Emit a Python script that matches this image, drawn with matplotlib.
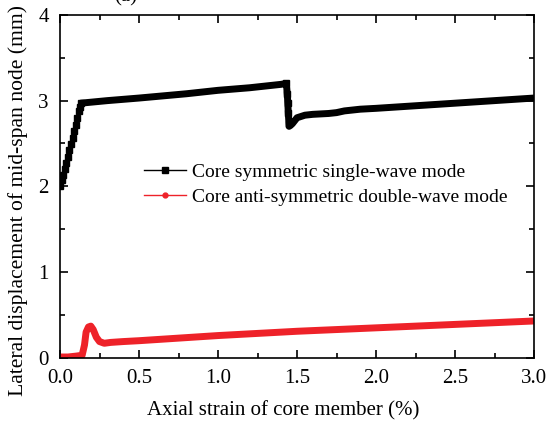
import numpy as np
import matplotlib.pyplot as plt
from matplotlib.lines import Line2D
from matplotlib.ticker import MultipleLocator, FormatStrFormatter

plt.rcParams['font.family'] = ['Liberation Serif', 'DejaVu Serif']
plt.rcParams['mathtext.fontset'] = 'stix'

# symmetric single-wave mode, rising part (sparse markers)
sym_rise_x = [0.0, 0.01, 0.02, 0.03, 0.04, 0.05, 0.06, 0.07, 0.08, 0.09, 0.10, 0.11, 0.12, 0.125, 0.13]
sym_rise_y = [2.0, 2.07, 2.13, 2.20, 2.27, 2.34, 2.42, 2.49, 2.56, 2.64, 2.72, 2.80, 2.88, 2.93, 2.97]
# plateau, jump and recovery
sym_rest_x = [0.13, 0.3, 0.5, 0.8, 1.0, 1.2, 1.40, 1.43, 1.435, 1.44, 1.445, 1.45, 1.47, 1.50, 1.55, 1.60, 1.70, 1.75, 1.80, 1.90, 2.0, 2.25, 2.5, 2.75, 3.0]
sym_rest_y = [2.97, 3.00, 3.03, 3.08, 3.12, 3.15, 3.19, 3.20, 3.15, 3.03, 2.85, 2.70, 2.73, 2.80, 2.83, 2.84, 2.85, 2.86, 2.88, 2.90, 2.91, 2.94, 2.97, 3.00, 3.03]
sym_jump_x = [1.43, 1.435, 1.44, 1.445, 1.45]
sym_jump_y = [3.20, 3.08, 2.97, 2.85, 2.73]

# anti-symmetric double-wave mode
anti_x = [0.0, 0.05, 0.10, 0.14, 0.155, 0.165, 0.18, 0.195, 0.21, 0.23, 0.25, 0.28, 0.32, 0.40, 0.5, 1.0, 1.5, 2.0, 2.5, 3.0]
anti_y = [0.01, 0.01, 0.02, 0.03, 0.15, 0.30, 0.36, 0.37, 0.33, 0.24, 0.19, 0.17, 0.18, 0.19, 0.20, 0.26, 0.31, 0.35, 0.39, 0.43]

fig = plt.figure(figsize=(5.47, 4.25), dpi=100)
ax = fig.add_axes([0.1097, 0.158, 0.8666, 0.807])

ax.plot(sym_rest_x, sym_rest_y, color='black', lw=5, solid_capstyle='butt')
ax.plot(sym_rise_x, sym_rise_y, color='black', lw=1, marker='s', ms=4.5)
ax.plot(sym_jump_x, sym_jump_y, color='black', lw=1, marker='s', ms=4.5)
ax.plot(anti_x, anti_y, color='#ee2229', lw=5)

ax.set_xlim(0, 3.0)
ax.set_ylim(0, 4)
ax.xaxis.set_major_locator(MultipleLocator(0.5))
ax.xaxis.set_minor_locator(MultipleLocator(0.25))
ax.yaxis.set_major_locator(MultipleLocator(1))
ax.yaxis.set_minor_locator(MultipleLocator(0.5))
ax.xaxis.set_major_formatter(FormatStrFormatter('%.1f'))
ax.yaxis.set_major_formatter(FormatStrFormatter('%d'))
ax.tick_params(which='both', direction='in', top=True, right=True, labelsize=15, width=1.2)
ax.tick_params(which='major', length=6)
ax.tick_params(which='minor', length=3.5)
ax.tick_params(axis='x', pad=8)
ax.tick_params(axis='y', pad=8)
for s in ax.spines.values():
    s.set_linewidth(1.2)

ax.set_xlabel('Axial strain of core member (%)', fontsize=15)
ax.xaxis.set_label_coords(0.47, -0.125)
ax.set_ylabel('Lateral displacement of mid-span node (mm)', fontsize=15.6)
ax.yaxis.set_label_coords(-0.068, 0.458)

handles = [
    Line2D([], [], color='black', lw=1, marker='s', ms=4),
    Line2D([], [], color='#ee2229', lw=1, marker='o', ms=3.5),
]
ax.legend(handles, ['Core symmetric single-wave mode', 'Core anti-symmetric double-wave mode'],
          loc='upper left', bbox_to_anchor=(0.16, 0.59), frameon=False, fontsize=14,
          handlelength=2.2, handletextpad=0.3, labelspacing=0.4, borderaxespad=0)

fig.text(0.23, 0.985, '(a)', fontsize=15, ha='center', va='bottom')

fig.savefig('out.png', dpi=100)
